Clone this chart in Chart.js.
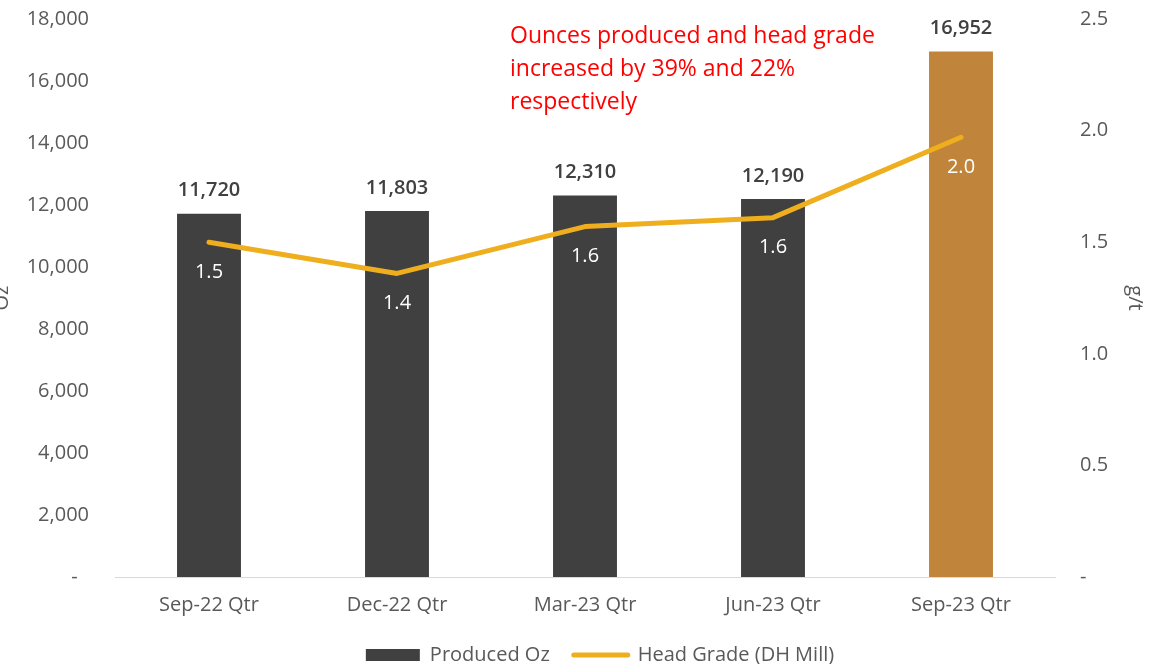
<!DOCTYPE html>
<html><head><meta charset="utf-8">
<script src="https://cdn.jsdelivr.net/npm/chart.js@4.4.0/dist/chart.umd.min.js"></script>
<style>
html,body{margin:0;padding:0;background:#fff;overflow:hidden;width:1150px;height:664px;}
#wrap{position:absolute;left:-10px;top:0;width:1160px;height:675px;}
#note{position:absolute;left:510px;top:18px;width:420px;font-family:"Open Sans",sans-serif;font-size:23px;line-height:33px;color:#FF0000;white-space:nowrap;}
</style></head><body>
<div id="wrap"><canvas id="c" width="1160" height="675"></canvas></div>
<div id="note">Ounces produced and head grade<br>increased by 39% and 22%<br>respectively</div>
<script>
const categories = ['Sep-22 Qtr', 'Dec-22 Qtr', 'Mar-23 Qtr', 'Jun-23 Qtr', 'Sep-23 Qtr'];
const producedOz = [11720, 11803, 12310, 12190, 16952];
const headGrade = [1.50, 1.36, 1.57, 1.61, 1.97];
const headGradeLabels = ['1.5', '1.4', '1.6', '1.6', '2.0'];
const seriesNames = ['Produced Oz', 'Head Grade (DH Mill)'];
const leftAxisTitle = 'Oz';
const rightAxisTitle = 'g/t';

const barColors = ['#404040', '#404040', '#404040', '#404040', '#C0843A'];
const lineColor = '#EFAE1E';
const textColor = '#595959';

Chart.defaults.font.family = '"Open Sans", sans-serif';
Chart.defaults.font.size = 20;
Chart.defaults.color = textColor;

const valueLabels = {
  id: 'valueLabels',
  afterLayout(chart) {
    if (chart.legend) { chart.legend.left += 30; }
  },
  afterDatasetsDraw(chart) {
    const ctx = chart.ctx;
    ctx.save();
    ctx.textAlign = 'center';
    ctx.textBaseline = 'middle';
    ctx.font = '600 20px "Open Sans", sans-serif';
    ctx.fillStyle = '#404040';
    chart.getDatasetMeta(0).data.forEach((el, i) => {
      ctx.fillText(producedOz[i].toLocaleString('en-US'), el.x, el.y - 23);
    });
    ctx.font = '20px "Open Sans", sans-serif';
    ctx.fillStyle = '#FFFFFF';
    chart.getDatasetMeta(1).data.forEach((el, i) => {
      ctx.fillText(headGradeLabels[i], el.x, el.y + 30);
    });
    ctx.restore();
  }
};

new Chart(document.getElementById('c'), {
  data: {
    labels: categories,
    datasets: [
      {
        type: 'bar',
        label: seriesNames[0],
        data: producedOz,
        backgroundColor: barColors,
        borderWidth: 0,
        barPercentage: 0.34,
        categoryPercentage: 1,
        yAxisID: 'y',
        order: 1
      },
      {
        type: 'line',
        label: seriesNames[1],
        data: headGrade,
        borderColor: lineColor,
        backgroundColor: lineColor,
        borderWidth: 5,
        borderCapStyle: 'round',
        borderJoinStyle: 'round',
        pointRadius: 0,
        tension: 0,
        yAxisID: 'y1',
        order: 0
      }
    ]
  },
  options: {
    responsive: false,
    animation: false,
    devicePixelRatio: 1,
    layout: { padding: { top: 19, bottom: 0, left: 0, right: 0 } },
    plugins: {
      tooltip: { enabled: false },
      legend: {
        position: 'bottom',
        fullSize: false,
        labels: {
          usePointStyle: true,
          pointStyleWidth: 54,
          boxHeight: 12,
          padding: 24,
          color: textColor,
          font: { size: 20 },
          generateLabels(chart) {
            const items = Chart.defaults.plugins.legend.labels.generateLabels(chart);
            items.sort((a, b) => a.datasetIndex - b.datasetIndex);
            items.forEach(it => {
              if (it.datasetIndex === 0) {
                it.pointStyle = 'rect';
                it.fillStyle = barColors[0];
                it.strokeStyle = barColors[0];
                it.lineWidth = 0;
              } else {
                it.pointStyle = 'line';
                it.strokeStyle = lineColor;
                it.lineWidth = 5;
                it.lineCap = 'round';
              }
            });
            return items;
          }
        }
      }
    },
    scales: {
      x: {
        grid: { display: false, drawTicks: false },
        border: { display: true, color: '#D9D9D9', width: 1 },
        ticks: { padding: 16, color: textColor, font: { size: 20 } },
        afterFit(s) { s.height = 44; s.paddingLeft = 0; s.paddingRight = 0; }
      },
      y: {
        position: 'left',
        min: 0, max: 18000,
        grid: { display: false, drawTicks: false },
        border: { display: false },
        ticks: {
          stepSize: 2000,
          padding: 26,
          color: textColor,
          font: { size: 20 },
          callback: v => v === 0 ? '-\u2007' : Number(v).toLocaleString('en-US')
        },
        title: { display: true, text: leftAxisTitle, color: textColor, font: { size: 20 }, padding: { top: 0, bottom: 0 } },
        afterFit(s) { s.width = 125; s.paddingTop = 0; s.paddingBottom = 0; }
      },
      y1: {
        position: 'right',
        min: 0, max: 2.5,
        grid: { display: false, drawTicks: false },
        border: { display: false },
        ticks: {
          stepSize: 0.5,
          padding: 25,
          color: textColor,
          font: { size: 20 },
          callback: v => v === 0 ? '-' : Number(v).toFixed(1)
        },
        title: { display: true, text: rightAxisTitle, color: textColor, font: { size: 20 }, padding: { top: 3, bottom: 0 } },
        afterFit(s) { s.width = 95; s.paddingTop = 0; s.paddingBottom = 0; }
      }
    }
  },
  plugins: [valueLabels]
});
</script>
</body></html>
